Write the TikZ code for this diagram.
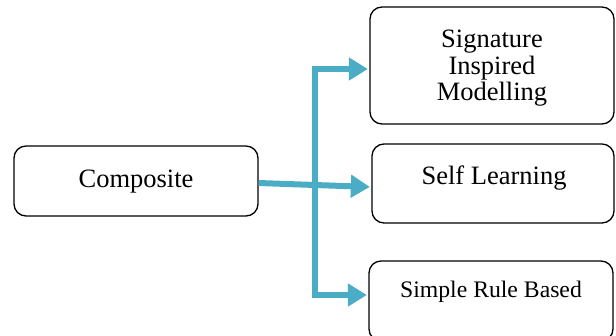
\documentclass[tikz,border=0pt]{standalone}
\usepackage{fontspec}
\setmainfont{Liberation Serif}
\usetikzlibrary{arrows.meta}
\definecolor{flow}{RGB}{75,172,198}
\tikzset{
  box/.style={draw=black, line width=1.3pt, rounded corners=12pt, inner sep=0pt},
  lbl/.style={anchor=base, inner sep=0pt, font=\fontsize{26.5}{26.5}\selectfont},
  lblsmall/.style={anchor=base, inner sep=0pt, font=\fontsize{23.7}{23.7}\selectfont},
  arr/.style={draw=flow, line width=6pt,
    -{Triangle[length=19pt,width=22pt]}, shorten >=1.5pt}
}
\begin{document}
\begin{tikzpicture}[x=1pt, y=-1pt]
  \useasboundingbox (0,0) rectangle (616,335);

  % boxes
  \node[box, minimum width=244pt, minimum height=70pt]  (comp) at (136,181)   {};
  \node[box, minimum width=244pt, minimum height=117pt] (sig)  at (492,65.5)  {};
  \node[box, minimum width=242pt, minimum height=79pt]  (self) at (493,183.5) {};
  \node[box, minimum width=244pt, minimum height=80pt]  (srb)  at (491,301)   {};

  % labels
  \node[lbl] (compT) at (136,187) {Composite};
  \node[lbl] (sigA)  at (492,47)  {Signature};
  \node[lbl] (sigB)  at (492,74)  {Inspired};
  \node[lbl] (sigC)  at (492,100) {Modelling};
  \node[lbl] (selfT) at (494,184) {Self Learning};
  \node[lblsmall] (srbT) at (491,297) {Simple Rule Based};

  % connectors
  \coordinate (j) at (314.5,184);
  \draw[arr] (j) |- ([yshift=-3.5pt]sig.west);
  \draw[arr] (j) |- ([yshift=6pt]srb.west);
  \draw[arr] ([yshift=-2pt]comp.east) -- ([yshift=-3.5pt]self.west);
\end{tikzpicture}
\end{document}
